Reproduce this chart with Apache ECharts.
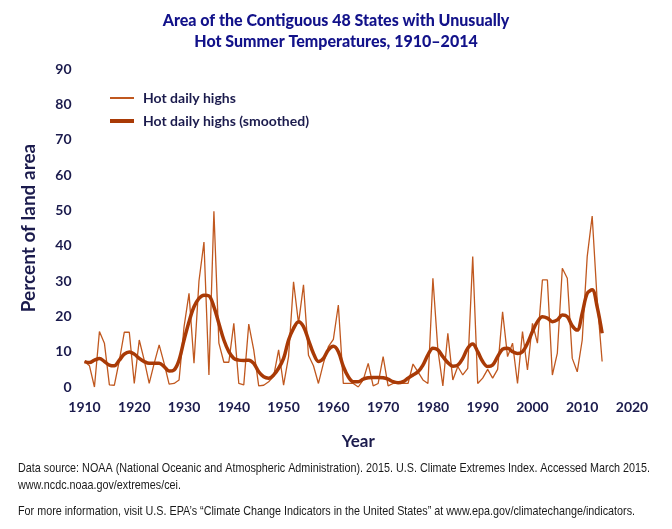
<!DOCTYPE html>
<html>
<head>
<meta charset="utf-8">
<script src="https://cdn.jsdelivr.net/npm/echarts@6/dist/echarts.min.js"></script>
<style>
html,body{margin:0;padding:0;background:#fff;}
#chart{width:672px;height:529px;}
</style>
</head>
<body>
<div id="chart"></div>
<script>
var years = [];
for (var y = 1910; y <= 2014; y++) years.push(y);

var hotDailyHighs = [
  7.2, 6, 0, 15.7, 12.4, 0.6, 0.5, 7.5, 15.5, 15.5,
  1, 13.3, 7.6, 1, 6.7, 11.9, 6.7, 0.8, 1, 2,
  17, 26.5, 6.7, 30, 41, 3.4, 49.7, 12.4, 7, 7,
  18, 1, 0.6, 17.8, 10.5, 0.3, 0.5, 1.5, 3, 10.5,
  0.5, 8.6, 29.8, 18, 28.9, 9, 6, 1, 6.7, 11.4,
  13.5, 23.2, 1, 1, 1, 0, 2, 6.7, 0.3, 1,
  8.6, 0.3, 1, 1, 1, 1, 6.5, 4.3, 2, 1,
  30.8, 10.5, 0.3, 15.2, 2, 5.8, 3.4, 5.3, 36.9, 1,
  2.5, 5, 2.5, 5, 21.3, 8.6, 12.4, 1, 15.7, 4.8,
  18, 12.4, 30.3, 30.3, 3.4, 9.6, 33.6, 30.8, 8.1, 4.3,
  13.3, 36.9, 48.4, 24.6, 7.2
];

var hotDailyHighsSmoothed = [
  7.2, 6.9, 7.6, 8.1, 7.2, 6.2, 6.0, 7.6, 9.3, 9.9,
  9.3, 8.1, 7.2, 6.7, 6.7, 6.7, 5.8, 4.5, 4.8, 7.6,
  13.3, 18.5, 22.7, 25.1, 26, 25.8, 22.7, 18, 13.3, 10,
  8.1, 7.6, 7.5, 7.6, 6.7, 4.3, 2.9, 2.5, 3.4, 5.3,
  8.1, 13.3, 16.6, 18.5, 17.1, 13.3, 9.5, 7.2, 8.1, 10.5,
  11.5, 10, 5.8, 2.9, 1.5, 1.5, 2.2, 2.6, 2.7, 2.7,
  2.6, 2.2, 1.5, 1.2, 1.5, 2.5, 3.4, 4.3, 6.2, 9.1,
  11, 10.5, 8.6, 6.9, 5.9, 6.2, 8.1, 11, 12.2, 10,
  7.2, 5.8, 6.2, 8.6, 10.7, 11, 10, 9.5, 10, 12.4,
  15.7, 18.5, 19.9, 19.5, 18.5, 19, 20.4, 19.9, 17.3, 16.1,
  20.9, 26.5, 27.5, 22.7, 15.2
];

var titleLines = ['Area of the Contiguous 48 States with Unusually', 'Hot Summer Temperatures, 1910\u20132014'];
var seriesNames = ['Hot daily highs', 'Hot daily highs (smoothed)'];
var footnotes = [
  'Data source: NOAA (National Oceanic and Atmospheric Administration). 2015. U.S. Climate Extremes Index. Accessed March 2015.',
  'www.ncdc.noaa.gov/extremes/cei.',
  'For more information, visit U.S. EPA\u2019s \u201cClimate Change Indicators in the United States\u201d at www.epa.gov/climatechange/indicators.'
];

var navy = '#1b1b4d';
var thinColor = '#c0581f';
var thickColor = '#a93a06';
var labelFont = 'Lato';
var footFont = '13px "Liberation Sans", Arial, sans-serif';

// condensed footnote: horizontally scale so the first line spans the reference width
var mctx = document.createElement('canvas').getContext('2d');
mctx.font = footFont;
var footScale = 632 / mctx.measureText(footnotes[0]).width;

function pairs(vals) {
  return years.map(function (yr, i) { return [yr, vals[i]]; });
}

var chart = echarts.init(document.getElementById('chart'), null, {renderer: 'canvas'});
chart.setOption({
  backgroundColor: '#ffffff',
  animation: false,
  title: {
    text: titleLines.join('\n'),
    left: 'center',
    top: 5,
    textStyle: {
      fontFamily: labelFont, fontWeight: 900, fontSize: 16,
      color: '#12128a', lineHeight: 21
    }
  },
  legend: [
    {
      data: [seriesNames[0]], left: 105, top: 86, orient: 'vertical',
      itemWidth: 24, itemHeight: 2, icon: 'rect',
      textStyle: {fontFamily: labelFont, fontWeight: 'bold', fontSize: 14, color: navy, padding: [0, 0, 0, 4]}
    },
    {
      data: [seriesNames[1]], left: 105, top: 109, orient: 'vertical',
      itemWidth: 24, itemHeight: 4, icon: 'rect',
      textStyle: {fontFamily: labelFont, fontWeight: 'bold', fontSize: 14, color: navy, padding: [0, 0, 0, 4]}
    }
  ],
  grid: {left: 84.5, right: 40, top: 69, bottom: 142, containLabel: false},
  xAxis: {
    type: 'value', min: 1910, max: 2020, interval: 10,
    name: 'Year', nameLocation: 'middle', nameGap: 46,
    nameTextStyle: {fontFamily: labelFont, fontWeight: 'bold', fontSize: 17, color: navy},
    axisLine: {show: false}, axisTick: {show: false}, splitLine: {show: false},
    axisLabel: {fontFamily: labelFont, fontWeight: 'bold', fontSize: 14, color: navy, margin: 13,
      formatter: function (v) { return String(v); }}
  },
  yAxis: {
    type: 'value', min: 0, max: 90, interval: 10,
    name: 'Percent of land area', nameLocation: 'middle', nameGap: 46, nameRotate: 90,
    nameTextStyle: {fontFamily: labelFont, fontWeight: 'bold', fontSize: 19, color: navy},
    axisLine: {show: false}, axisTick: {show: false}, splitLine: {show: false},
    axisLabel: {fontFamily: labelFont, fontWeight: 'bold', fontSize: 14, color: navy, margin: 13}
  },
  series: [
    {
      name: seriesNames[0], type: 'line', data: pairs(hotDailyHighs),
      showSymbol: false, symbol: 'none',
      lineStyle: {width: 1.3, color: thinColor}, itemStyle: {color: thinColor}, z: 2
    },
    {
      name: seriesNames[1], type: 'line', data: pairs(hotDailyHighsSmoothed),
      showSymbol: false, symbol: 'none', smooth: 0.35,
      lineStyle: {width: 3.5, color: thickColor}, itemStyle: {color: thickColor}, z: 3
    }
  ],
  graphic: [
    {type: 'text', x: 18, y: 462, scaleX: footScale, style: {text: footnotes[0], font: footFont, fill: '#1a1a1a'}},
    {type: 'text', x: 18, y: 479, scaleX: footScale, style: {text: footnotes[1], font: footFont, fill: '#1a1a1a'}},
    {type: 'text', x: 18, y: 505, scaleX: footScale, style: {text: footnotes[2], font: footFont, fill: '#1a1a1a'}}
  ]
});
</script>
</body>
</html>
